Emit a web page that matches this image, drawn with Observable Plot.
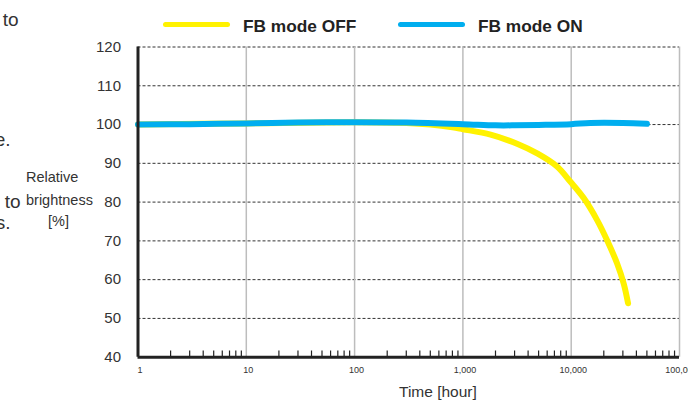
<!DOCTYPE html>
<html>
<head>
<meta charset="utf-8">
<script src="https://cdn.jsdelivr.net/npm/d3@7"></script>
<script src="https://cdn.jsdelivr.net/npm/@observablehq/plot@0.6"></script>
<style>
  html, body { margin: 0; padding: 0; background: #fff; }
  #wrap { position: relative; width: 688px; height: 400px; overflow: hidden; font-family: "Liberation Sans", Arial, Helvetica, sans-serif; color: #333; }
  #wrap svg { position: absolute; left: 0; top: 0; }
  .t { position: absolute; white-space: nowrap; line-height: 1; }
  .sw { position: absolute; height: 5px; border-radius: 3px; }
</style>
</head>
<body>
<div id="wrap"></div>
<script>
// ---- data ----
const seriesNames = ["FB mode OFF", "FB mode ON"];
const seriesColors = ["#fff200", "#00aeef"];

const offHours = [1, 10, 100, 300, 500, 800, 1000, 1800, 3200, 4900, 7400, 9800, 13000, 17400, 21500, 26600, 30600, 33500];
const offValues = [100.0, 100.3, 100.6, 100.4, 100.0, 99.3, 98.8, 97.4, 95.0, 92.5, 89.2, 85.3, 81.1, 75.3, 70.1, 64.1, 58.9, 53.9];

const onHours = [1, 3, 10, 30, 100, 300, 1000, 2000, 3000, 5000, 10000, 15000, 30000, 50000];
const onValues = [100.0, 100.1, 100.3, 100.5, 100.6, 100.5, 100.1, 99.8, 99.8, 99.9, 100.1, 100.4, 100.4, 100.2];

const yTicks = [40, 50, 60, 70, 80, 90, 100, 110, 120];
const xTicks = [1, 10, 100, 1000, 10000, 100000];
const minorMultipliers = [2, 3, 4, 5, 6, 7, 8, 9];

// ---- build ----
const offData = offHours.map((h, i) => ({hours: h, value: offValues[i]}));
const onData = onHours.map((h, i) => ({hours: h, value: onValues[i]}));
const minorTicks = xTicks.slice(0, -1).flatMap(d => minorMultipliers.map(m => d * m));

const chart = Plot.plot({
  width: 688,
  height: 400,
  marginLeft: 137.5,
  marginRight: 9,
  marginTop: 46.5,
  marginBottom: 43.3,
  style: {fontFamily: '"Liberation Sans", Arial, Helvetica, sans-serif', background: "transparent", color: "#333"},
  x: {type: "log", domain: [1, 100000]},
  y: {domain: [40, 120]},
  marks: [
    Plot.ruleY(yTicks.filter(d => d > 40), {stroke: "#333", strokeWidth: 1, strokeDasharray: "3,2"}),
    Plot.ruleX(xTicks.slice(1), {stroke: "#bdbdbd", strokeWidth: 1.5}),
    Plot.ruleX(minorTicks, {y1: 40, y2: 41.6, stroke: "#222", strokeWidth: 1.2}),
    Plot.line(offData, {x: "hours", y: "value", stroke: seriesColors[0], strokeWidth: 6, curve: "catmull-rom", strokeLinecap: "round", strokeLinejoin: "round"}),
    Plot.line(onData, {x: "hours", y: "value", stroke: seriesColors[1], strokeWidth: 6, curve: "catmull-rom", strokeLinecap: "round", strokeLinejoin: "round"}),
    Plot.ruleX([1], {stroke: "#222", strokeWidth: 3}),
    Plot.ruleY([40], {stroke: "#222", strokeWidth: 3}),
    Plot.axisY({ticks: yTicks, tickSize: 0, tickPadding: 17, fontSize: 15, label: null, color: "#333"}),
    Plot.axisX({ticks: xTicks, tickSize: 0, tickPadding: 9, fontSize: 9, tickFormat: d3.format(","), label: null, dx: 2, color: "#333"})
  ]
});

const wrap = document.getElementById("wrap");
wrap.appendChild(chart);

function place(text, x, baseline, size, opts = {}) {
  const el = document.createElement("div");
  el.className = "t";
  el.textContent = text;
  el.style.fontSize = size + "px";
  el.style.top = (baseline - 0.8465 * size) + "px";
  if (opts.right != null) { el.style.right = (688 - opts.right) + "px"; }
  else el.style.left = x + "px";
  if (opts.bold) el.style.fontWeight = "bold";
  if (opts.color) el.style.color = opts.color;
  wrap.appendChild(el);
  return el;
}
function swatch(x1, x2, y, color) {
  const el = document.createElement("div");
  el.className = "sw";
  el.style.left = x1 + "px";
  el.style.width = (x2 - x1) + "px";
  el.style.top = (y - 2.5) + "px";
  el.style.background = color;
  wrap.appendChild(el);
}

// legend
swatch(163, 230, 24, seriesColors[0]);
place(seriesNames[0], 243, 33, 17.3, {bold: true, color: "#222"});
swatch(398, 465, 24, seriesColors[1]);
place(seriesNames[1], 478, 33, 17.3, {bold: true, color: "#222"});

// y label
place("Relative", 26, 182.5, 14.5);
place("brightness", 26, 205, 14.5);
place("[%]", 48, 226, 14.5);

// x label
place("Time [hour]", 399, 397, 15.5);

// cropped surrounding paragraph text
place("to", 0, 26.5, 19, {right: 18.5});
place("e.", 0, 146.5, 19, {right: 10.5});
place("to", 0, 208, 19, {right: 20.5});
place("s.", 0, 229.5, 19, {right: 10.5});
</script>
</body>
</html>
